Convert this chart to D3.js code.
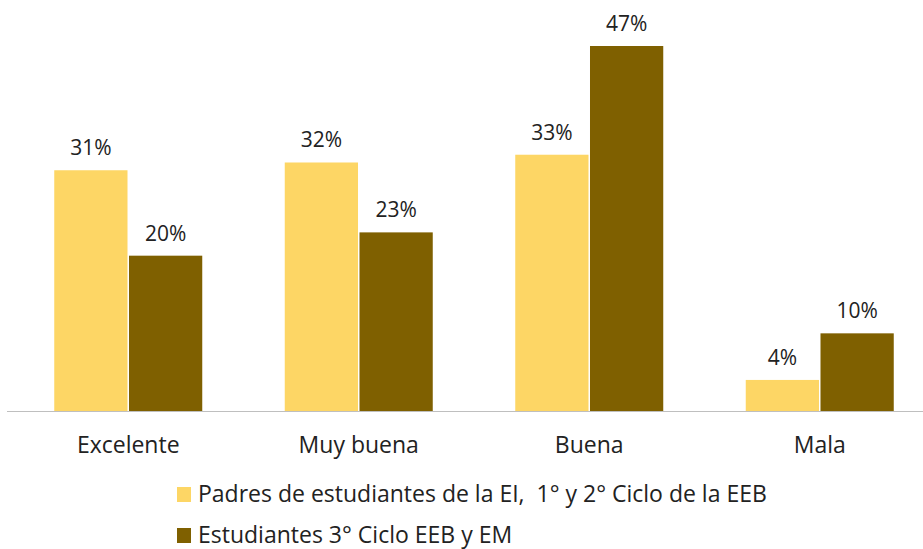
<!DOCTYPE html>
<meta charset="utf-8">
<title>Valoración</title>
<style>
  body { margin: 0; background: #fff; }
  text { font-family: "Open Sans", Lato, sans-serif; fill: #222; }
</style>
<body>
<script src="https://cdn.jsdelivr.net/npm/d3@7"></script>
<script>

var categories = ["Excelente", "Muy buena", "Buena", "Mala"];
var seriesNames = ["Padres de estudiantes de la EI,  1° y 2° Ciclo de la EEB",
                   "Estudiantes 3° Ciclo EEB y EM"];
var padres = [31, 32, 33, 4];
var estudiantes = [20, 23, 47, 10];
var colors = ["#FDD665", "#7F6000"];

var width = 923, height = 549,
    baseline = 411;

var svg = d3.select("body").append("svg")
  .attr("width", width)
  .attr("height", height);

var x = d3.scaleBand()
  .domain(categories)
  .range([13, 935]);

var x1 = d3.scaleBand()
  .domain([0, 1])
  .range([x.bandwidth() / 2 - 74, x.bandwidth() / 2 + 74])
  .paddingInner(0.02);

var y = d3.scaleLinear()
  .domain([0, 47])
  .range([baseline, 46]);

var rows = categories.map(function (c, i) {
  return { cat: c, vals: [padres[i], estudiantes[i]] };
});

var group = svg.selectAll("g.cat")
  .data(rows)
  .enter().append("g")
  .attr("class", "cat")
  .attr("transform", function (d) { return "translate(" + x(d.cat) + ",0)"; });

group.selectAll("rect")
  .data(function (d) { return d.vals; })
  .enter().append("rect")
  .attr("x", function (d, i) { return x1(i); })
  .attr("width", x1.bandwidth())
  .attr("y", function (d) { return y(d); })
  .attr("height", function (d) { return baseline - y(d); })
  .attr("fill", function (d, i) { return colors[i]; });

group.selectAll("text.val")
  .data(function (d) { return d.vals; })
  .enter().append("text")
  .attr("class", "val")
  .attr("x", function (d, i) { return x1(i) + x1.bandwidth() / 2; })
  .attr("y", function (d) { return y(d) - 15; })
  .attr("text-anchor", "middle")
  .style("font-size", "21px")
  .text(function (d) { return d + "%"; });

// axis line + category labels
svg.append("line")
  .attr("x1", 7).attr("x2", width)
  .attr("y1", baseline + 0.5).attr("y2", baseline + 0.5)
  .attr("stroke", "#bfbfbf");

svg.selectAll("text.cat")
  .data(categories)
  .enter().append("text")
  .attr("class", "cat")
  .attr("x", function (d) { return x(d) + x.bandwidth() / 2; })
  .attr("y", 453)
  .attr("text-anchor", "middle")
  .style("font-size", "23px")
  .text(function (d) { return d; });

// legend
var legend = svg.selectAll("g.legend")
  .data(seriesNames)
  .enter().append("g")
  .attr("class", "legend")
  .attr("transform", function (d, i) { return "translate(177," + (502 + i * 41) + ")"; });

legend.append("rect")
  .attr("x", 0).attr("y", -15)
  .attr("width", 14).attr("height", 15)
  .attr("fill", function (d, i) { return colors[i]; });

legend.append("text")
  .attr("x", 21)
  .attr("y", 0)
  .style("font-size", "23px")
  .style("white-space", "pre")
  .text(function (d) { return d; });

</script>
</body>
</html>
